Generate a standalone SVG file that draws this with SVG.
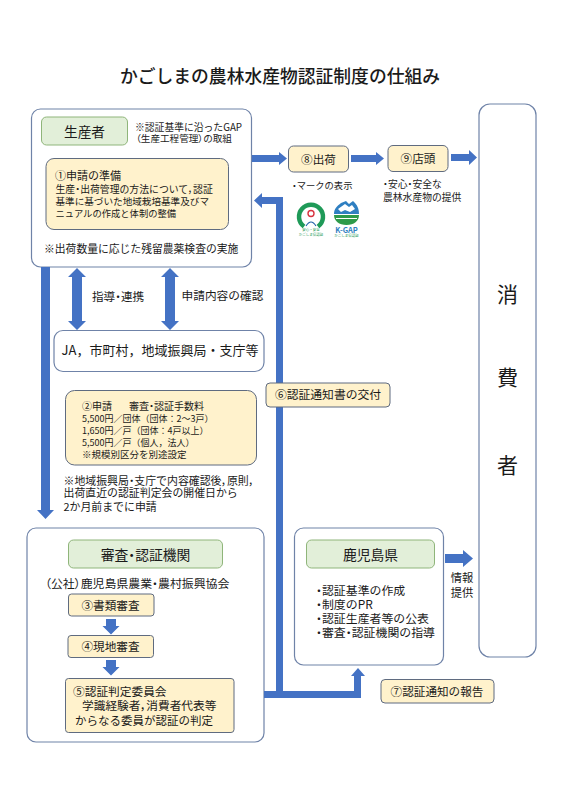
<svg xmlns="http://www.w3.org/2000/svg" width="567" height="800" viewBox="0 0 567 800">
<defs><style>
text{font-family:"Noto Sans CJK JP","Noto Sans",sans-serif;fill:#1a1a1a}
tspan.k{font-feature-settings:"palt"}
.w{fill:#fff;stroke:#6f83a8;stroke-width:1.2}
.g{fill:#e2efd9;stroke:#8fb57a;stroke-width:1}
.y{fill:#fff2cc;stroke:#5f6b80;stroke-width:1}
.a{fill:#4472c4}
.m{text-anchor:middle}
.n1{font-size:9.600px}.n2{font-size:9px}.n3{font-size:10.900px}.b{font-size:11.600px}.c{font-size:11.900px}
.t{font-size:3.500px;fill:#1f9a58}
</style></defs>
<rect width="567" height="800" fill="#fff"/>
<text x="280" y="82.500" class="m" font-size="17.800" font-weight="500">かごしまの農林水産物認証制度の仕組み</text>
<g id="producer">
<rect class="w" x="31.500" y="109" width="220" height="158" rx="9"/>
<rect class="g" x="41.500" y="117" width="86" height="28" rx="5"/>
<text x="84.500" y="136.700" class="m" font-size="13.700">生産者</text>
<text x="135" y="130.500" font-size="9.800">※認証基準に沿ったGAP</text>
<text x="136" y="142" font-size="9.600"><tspan class="k">（</tspan>生産工程管理<tspan class="k">）</tspan>の取組</text>
</g>
<g id="step1">
<rect class="y" x="46" y="158.500" width="182.500" height="71" rx="8"/>
<text x="55" y="180" font-size="11">①申請の準備</text>
<text x="55.500" y="192.500" font-size="9.850">生産<tspan class="k">・</tspan>出荷管理の方法について<tspan class="k">，</tspan>認証</text>
<text x="55.500" y="205" class="n1">基準に基づいた地域栽培基準及びマ</text>
<text x="55.500" y="217" font-size="9.300">ニュアルの作成と体制の整備</text>
<text x="44" y="253" font-size="10.800">※出荷数量に応じた残留農薬検査の実施</text>
</g>
<g id="inspection">
<rect class="w" x="27" y="528" width="237" height="214" rx="9"/>
<rect class="g" x="68.500" y="540" width="154" height="28" rx="5"/>
<text x="145.500" y="560" class="m" font-size="13.800">審査<tspan class="k">・</tspan>認証機関</text>
<text x="45" y="588" class="c"><tspan class="k">（</tspan>公社<tspan class="k">）</tspan>鹿児島県農業<tspan class="k">・</tspan>農村振興協会</text>
</g>
<g id="prefecture">
<rect class="w" x="294.500" y="528" width="149" height="137" rx="9"/>
<rect class="g" x="306.500" y="540" width="128" height="28" rx="5"/>
<text x="370.500" y="560" class="m" font-size="13.800">鹿児島県</text>
<text x="316" y="594.500" class="c"><tspan class="k">・</tspan>認証基準の作成</text>
<text x="316" y="608.500" class="c"><tspan class="k">・</tspan>制度のPR</text>
<text x="316" y="622.500" class="c"><tspan class="k">・</tspan>認証生産者等の公表</text>
<text x="316" y="637" class="c"><tspan class="k">・</tspan>審査<tspan class="k">・</tspan>認証機関の指導</text>
<text x="462" y="582" class="m" font-size="11.300">情報</text>
<text x="462" y="597" class="m" font-size="11.300">提供</text>
</g>
<g id="consumer">
<rect class="w" x="479" y="104" width="57" height="553" rx="11"/>
<text x="507.500" y="302" class="m" font-size="21">消</text>
<text x="507.500" y="385" class="m" font-size="21">費</text>
<text x="507.500" y="473" class="m" font-size="21">者</text>
</g>
<g id="connectors">
<path class="a" d="M41 267H50V510H54L45.500 519L37 510H41Z"/>
<path class="a" d="M77 268L86 277H82V321H86L77 330L68 321H72V277H68Z"/>
<path class="a" d="M170 268L179 277H175V321H179L170 330L161 321H165V277H161Z"/>
<path class="a" d="M252 155H279V152L287 158.500L279 165V162H252Z"/>
<path class="a" d="M351 155H376V152L384 158.500L376 165V162H351Z"/>
<path class="a" d="M451 154H469V150L477 157.500L469 165V161H451Z"/>
<path class="a" d="M254 200.500L262 193V197H283V691H354V676H351L358 668L365 676H361V698H264V691H276V204H262V208Z"/>
<path class="a" d="M445 554H463V550L473 558.500L463 567V563H445Z"/>
<path class="a" d="M106 619H116V626H119.500L111 634.500L102.500 626H106Z"/>
<path class="a" d="M106 660H116V667H119.500L111 675.500L102.500 667H106Z"/>
</g>
<g id="step8">
<rect class="y" x="288.500" y="146" width="60" height="26" rx="5"/>
<text x="318.500" y="164" class="m" font-size="11.600">⑧出荷</text>
<text x="292" y="188.500" font-size="9.300"><tspan class="k">・</tspan>マークの表示</text>
</g>
<g id="step9">
<rect class="y" x="388" y="145.500" width="60" height="26" rx="5"/>
<text x="418" y="163" class="m" font-size="11.600">⑨店頭</text>
<text x="383" y="188" font-size="9.800"><tspan class="k">・</tspan>安心<tspan class="k">・</tspan>安全な</text>
<text x="383" y="201" font-size="9.800">農林水産物の提供</text>
</g>
<g id="marks">
<path d="M304 226.500a12 12 0 1 1 14 0" fill="none" stroke="#1f9a58" stroke-width="4.500"/>
<circle cx="311" cy="213.500" r="3" fill="#fff" stroke="#d8343f" stroke-width="1.400"/>
<path d="M306 226q5-8 10 0" fill="none" stroke="#1f5fa8" stroke-width="1.200"/>
<text x="311" y="231" class="m t">安心・安全</text>
<text x="311" y="235.500" class="m t">かごしま県認証</text>
<path d="M334 214c0-5 3-8 7-11l5-2 3 3 4-3 2 2c3 3 4 7 4 11Z" fill="#2f7fc1"/>
<path d="M338 209l7-5 4 3 3-2 3 4-5 3-5-2-4 2Z" fill="#fff"/>
<path d="M334 215h25c0 6-5 10-12.500 10s-12.500-4-12.500-10Z" fill="#2e9a4a"/>
<path d="M336 218.500h21" stroke="#fff" stroke-width="1"/>
<text x="346.500" y="232.500" class="m" font-size="7.500" font-weight="700" style="fill:#2f7fc1">K-GAP</text>
<text x="346.500" y="237" class="m t">かごしま県認証</text>
</g>
<g id="guidance">
<text x="92" y="301" font-size="11.600">指導<tspan class="k">・</tspan>連携</text>
<text x="181.500" y="300" font-size="11.700">申請内容の確認</text>
</g>
<g id="ja">
<rect class="w" x="54" y="330.500" width="210" height="41" rx="9"/>
<text x="160" y="355" class="m" font-size="13">JA，市町村，地域振興局・支庁等</text>
</g>
<g id="step2">
<rect class="y" x="65.500" y="390.500" width="191" height="74.500" rx="9"/>
<text x="82" y="409.500" font-size="10">②申請</text>
<text x="129" y="409.500" font-size="10">審査<tspan class="k">・</tspan>認証手数料</text>
<text x="82" y="421.500" class="n2">5,500円／団体（団体：2～3戸）</text>
<text x="82" y="433.500" class="n2">1,650円／戸（団体：4戸以上）</text>
<text x="82" y="446" class="n2">5,500円／戸（個人，法人）</text>
<text x="82" y="458" font-size="9.500">※規模別区分を別途設定</text>
<text x="63.500" y="484.500" class="n3">※地域振興局<tspan class="k">・</tspan>支庁で内容確認後<tspan class="k">，</tspan>原則<tspan class="k">，</tspan></text>
<text x="63.500" y="497" class="n3">出荷直近の認証判定会の開催日から</text>
<text x="63.500" y="510.500" class="n3">2か月前までに申請</text>
</g>
<g id="step6">
<rect class="y" x="266" y="383" width="124" height="24" rx="4"/>
<text x="328" y="399.300" class="m" font-size="11.800">⑥認証通知書の交付</text>
</g>
<g id="step3">
<rect class="y" x="68.500" y="594" width="85.500" height="22" rx="3"/>
<text x="110.500" y="609.500" class="m b">③書類審査</text>
</g>
<g id="step4">
<rect class="y" x="68" y="635.500" width="85.500" height="22" rx="3"/>
<text x="110.500" y="651" class="m b">④現地審査</text>
</g>
<g id="step5">
<rect class="y" x="65.500" y="678.500" width="168.500" height="54" rx="3"/>
<text x="73" y="695.500" font-size="11.700">⑤認証判定委員会</text>
<text x="82" y="709.500" font-size="11.700">学識経験者<tspan class="k">，</tspan>消費者代表等</text>
<text x="75" y="724.500" font-size="11.500">からなる委員が認証の判定</text>
</g>
<g id="step7">
<rect class="y" x="381" y="679.500" width="113" height="23.500" rx="4"/>
<text x="437" y="695.700" class="m b">⑦認証通知の報告</text>
</g>
</svg>
